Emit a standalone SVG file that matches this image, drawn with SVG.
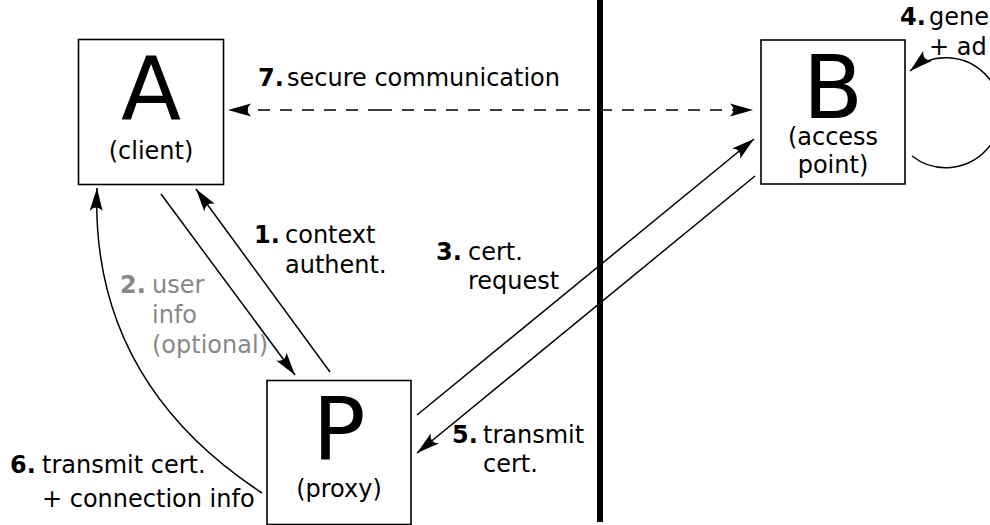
<svg xmlns="http://www.w3.org/2000/svg" width="990" height="525" viewBox="0 0 990 525">
<defs>
<marker id="ah" markerUnits="userSpaceOnUse" markerWidth="30" markerHeight="20" viewBox="-26 -10 30 20" refX="0" refY="0" orient="auto" overflow="visible">
<path d="M0,0 L-23,-6.5 Q-16,0 -23,6.5 Z" fill="#000"/>
</marker>
<style>
.box{fill:#fff;stroke:#000;stroke-width:1.6}
.big{font-family:"DejaVu Sans",sans-serif;font-size:88px;text-anchor:middle;fill:#000}
.sub{font-family:"DejaVu Sans",sans-serif;font-size:24px;text-anchor:middle;fill:#000}
.lbl{font-family:"DejaVu Sans",sans-serif;font-size:24px;fill:#000}
.num{font-family:"DejaVu Sans",sans-serif;font-size:24px;font-weight:bold;fill:#000}
.gray{fill:#888}
.c{fill:none;stroke:#000;stroke-width:1.5;marker-end:url(#ah)}
</style>
</defs>
<rect x="0" y="0" width="990" height="525" fill="#fff"/>
<rect id="divider" x="597" y="0" width="6" height="522" fill="#000"/>
<g id="node-A">
<rect class="box" x="78.5" y="39.5" width="145" height="145"/>
<text class="big" x="151" y="119">A</text>
<text class="sub" x="151" y="159">(client)</text>
</g>
<g id="node-B">
<rect class="box" x="761" y="40" width="144" height="144"/>
<text class="big" x="833" y="118">B</text>
<text class="sub" x="833" y="145">(access</text>
<text class="sub" x="833" y="173">point)</text>
</g>
<g id="node-P">
<rect class="box" x="267" y="380.5" width="144" height="144"/>
<text class="big" x="339" y="460">P</text>
<text class="sub" x="339" y="497">(proxy)</text>
</g>
<g id="connectors">
<path class="c" d="M330,372 L196,189"/>
<path class="c" d="M161,194 L295,375"/>
<path class="c" d="M417,415 L754,139"/>
<path class="c" d="M755,176 L417,453"/>
<path class="c" d="M262,493 Q90,380 97,188"/>
<path class="c" d="M912,156 A55,55 0 1 0 910,71"/>
<path class="c" d="M380,110 L228,110" stroke-dasharray="12,10"/>
<path class="c" d="M380,110 L753,110" stroke-dasharray="12,10"/>
</g>
<g id="labels">
<text class="num" x="258" y="86">7.</text><text class="lbl" x="287" y="86">secure communication</text>
<text class="num" x="900" y="25">4.</text><text class="lbl" x="929" y="25">gene</text>
<text class="lbl" x="929" y="55">+ ad</text>
<text class="num" x="254" y="243">1.</text><text class="lbl" x="285" y="243">context</text>
<text class="lbl" x="285" y="273">authent.</text>
<text class="num gray" x="120" y="293">2.</text><text class="lbl gray" x="152" y="293">user</text>
<text class="lbl gray" x="152" y="323">info</text>
<text class="lbl gray" x="152" y="353">(optional)</text>
<text class="num" x="436" y="260">3.</text><text class="lbl" x="468" y="260">cert.</text>
<text class="lbl" x="468" y="289">request</text>
<text class="num" x="452" y="443">5.</text><text class="lbl" x="483" y="443">transmit</text>
<text class="lbl" x="483" y="472">cert.</text>
<text class="num" x="10" y="473">6.</text><text class="lbl" x="42" y="473">transmit cert.</text>
<text class="lbl" x="42" y="507">+ connection info</text>
</g>
</svg>
